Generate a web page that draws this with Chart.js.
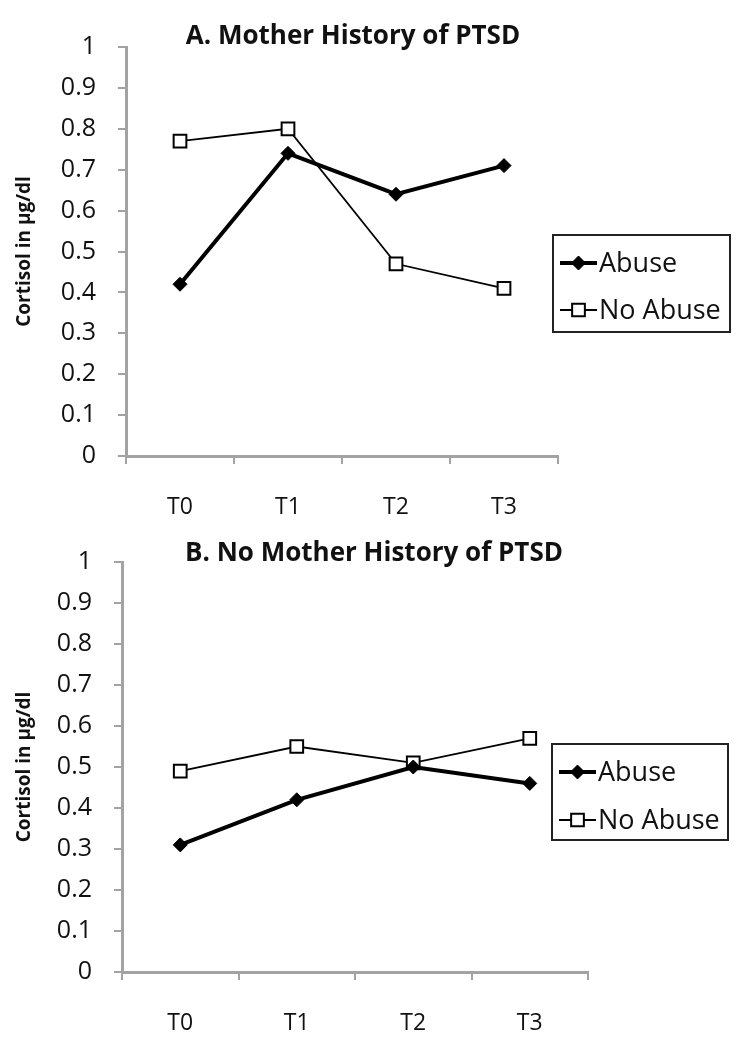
<!DOCTYPE html>
<html>
<head>
<meta charset="utf-8">
<script src="https://cdn.jsdelivr.net/npm/chart.js@4.4.1/dist/chart.umd.min.js"></script>
<style>
  html, body { margin: 0; padding: 0; background: #fff; }
  canvas { display: block; }
</style>
</head>
<body>
<canvas id="chartA" width="749" height="525"></canvas>
<canvas id="chartB" width="749" height="525"></canvas>
<script>
// values (cortisol, ug/dl)
const timepoints = ['T0', 'T1', 'T2', 'T3'];
const seriesNames = ['Abuse', 'No Abuse'];
const motherPtsdAbuse = [0.42, 0.74, 0.64, 0.71];
const motherPtsdNoAbuse = [0.77, 0.80, 0.47, 0.41];
const noMotherPtsdAbuse = [0.31, 0.42, 0.50, 0.46];
const noMotherPtsdNoAbuse = [0.49, 0.55, 0.51, 0.57];
const yMin = 0, yMax = 1, yStep = 0.1;

const FONT = "'Open Sans', sans-serif";
const AXIS_GREY = '#a3a3a3';
const INK = '#111';

// draws the panel title and the boxed legend (positions come from plugin options)
const panelDecor = {
  id: 'panelDecor',
  afterDraw(chart, args, opts) {
    const ctx = chart.ctx;
    ctx.save();
    ctx.font = `bold ${opts.titleSize}px ${FONT}`;
    ctx.fillStyle = INK;
    ctx.textAlign = 'center';
    ctx.textBaseline = 'alphabetic';
    ctx.fillText(opts.title, opts.titleX, opts.titleY);

    const b = opts.box;
    ctx.fillStyle = '#fff';
    ctx.fillRect(b.x, b.y, b.w, b.h);
    ctx.strokeStyle = '#222';
    ctx.lineWidth = 2;
    ctx.strokeRect(b.x, b.y, b.w, b.h);

    chart.data.datasets.forEach((ds, i) => {
      const y = b.y + opts.rows[i];
      const x0 = b.x + 7, x1 = b.x + 44, xm = (x0 + x1) / 2;
      ctx.strokeStyle = ds.borderColor;
      ctx.lineWidth = ds.borderWidth;
      ctx.beginPath();
      ctx.moveTo(x0, y);
      ctx.lineTo(x1, y);
      ctx.stroke();
      ctx.fillStyle = ds.pointBackgroundColor;
      ctx.strokeStyle = ds.pointBorderColor;
      ctx.lineWidth = ds.pointBorderWidth;
      ctx.beginPath();
      if (ds.pointStyle === 'rect') {
        const s = ds.pointRadius * Math.SQRT1_2;
        ctx.rect(xm - s, y - s, 2 * s, 2 * s);
      } else {
        const r = ds.pointRadius;
        ctx.moveTo(xm, y - r); ctx.lineTo(xm + r, y);
        ctx.lineTo(xm, y + r); ctx.lineTo(xm - r, y);
        ctx.closePath();
      }
      ctx.fill();
      ctx.stroke();
      ctx.fillStyle = INK;
      ctx.font = `${opts.legendSize}px ${FONT}`;
      ctx.textAlign = 'left';
      ctx.textBaseline = 'middle';
      ctx.fillText(ds.label, b.x + 46, y + 1);
    });
    ctx.restore();
  }
};

function axisGrid() {
  return {
    drawOnChartArea: false,
    drawTicks: true,
    tickLength: 8,
    color: AXIS_GREY,
    lineWidth: 2
  };
}

function makePanel(id, abuse, noAbuse, spec) {
  return new Chart(document.getElementById(id), {
    type: 'line',
    data: {
      labels: timepoints,
      datasets: [
        {
          label: seriesNames[0],
          data: abuse,
          borderColor: '#000',
          borderWidth: 4,
          pointStyle: 'rectRot',
          pointRadius: 7,
          pointBackgroundColor: '#000',
          pointBorderColor: '#000',
          pointBorderWidth: 1,
          tension: 0
        },
        {
          label: seriesNames[1],
          data: noAbuse,
          borderColor: '#000',
          borderWidth: 1.8,
          pointStyle: 'rect',
          pointRadius: 9,
          pointBackgroundColor: '#fff',
          pointBorderColor: '#000',
          pointBorderWidth: 2,
          tension: 0
        }
      ]
    },
    options: {
      responsive: false,
      animation: false,
      layout: { padding: { left: 0, top: spec.top, right: 749 - spec.right, bottom: 0 } },
      scales: {
        x: {
          offset: true,
          grid: Object.assign(axisGrid(), { offset: true }),
          border: { color: AXIS_GREY, width: 3 },
          ticks: { color: INK, font: { family: FONT, size: 23 }, padding: 30 },
          afterFit(s) { s.height = 525 - spec.bottom; }
        },
        y: {
          min: yMin,
          max: yMax,
          grid: axisGrid(),
          border: { color: AXIS_GREY, width: 3 },
          ticks: {
            stepSize: yStep,
            color: INK,
            font: { family: FONT, size: 25 },
            padding: 22,
            callback: v => String(Number(v.toFixed(1)))
          },
          title: {
            display: true,
            text: 'Cortisol in µg/dl',
            color: INK,
            font: { family: FONT, size: 19, weight: 'bold' },
            padding: { top: 13, bottom: 0 }
          },
          afterFit(s) { s.width = spec.left; }
        }
      },
      plugins: {
        legend: { display: false },
        tooltip: { enabled: false },
        panelDecor: spec.decor
      }
    },
    plugins: [panelDecor]
  });
}

makePanel('chartA', motherPtsdAbuse, motherPtsdNoAbuse, {
  left: 126, right: 558, top: 47, bottom: 456,
  decor: {
    title: 'A. Mother History of PTSD', titleSize: 26, titleX: 353, titleY: 44,
    box: { x: 553, y: 235, w: 177, h: 97 }, rows: [28, 75], legendSize: 27
  }
});

makePanel('chartB', noMotherPtsdAbuse, noMotherPtsdNoAbuse, {
  left: 122, right: 588, top: 34, bottom: 447,
  decor: {
    title: 'B. No Mother History of PTSD', titleSize: 26, titleX: 374, titleY: 36,
    box: { x: 552, y: 219, w: 176, h: 96 }, rows: [28, 76], legendSize: 27
  }
});
</script>
</body>
</html>
